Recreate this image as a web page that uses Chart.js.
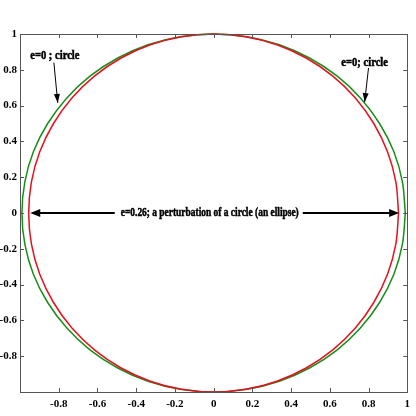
<!DOCTYPE html>
<html><head><meta charset="utf-8">
<script src="https://cdn.jsdelivr.net/npm/chart.js@4.4.0/dist/chart.umd.min.js"></script>
<style>html,body{margin:0;padding:0;background:#fff}canvas{display:block}</style>
</head><body>
<canvas id="c" width="416" height="416"></canvas>
<script>
// Points (green: e=0 circle, red: e=0.26 ellipse)
const greenX = [0.99,0.975,0.931,0.857,0.758,0.637,0.495,0.339,0.172,0,-0.172,-0.339,-0.495,-0.637,-0.758,-0.857,-0.931,-0.975,-0.99,-0.975,-0.931,-0.857,-0.758,-0.637,-0.495,-0.339,-0.172,0,0.172,0.339,0.495,0.637,0.758,0.857,0.931,0.975,0.99];
const greenY = [0,0.174,0.342,0.5,0.643,0.766,0.866,0.94,0.985,1,0.985,0.94,0.866,0.766,0.643,0.5,0.342,0.174,0,-0.174,-0.342,-0.5,-0.643,-0.766,-0.866,-0.94,-0.985,-1,-0.985,-0.94,-0.866,-0.766,-0.643,-0.5,-0.342,-0.174,0];
const redX = [0.955,0.941,0.898,0.827,0.732,0.614,0.478,0.327,0.166,0,-0.166,-0.327,-0.478,-0.614,-0.732,-0.827,-0.898,-0.941,-0.955,-0.941,-0.898,-0.827,-0.732,-0.614,-0.478,-0.327,-0.166,0,0.166,0.327,0.478,0.614,0.732,0.827,0.898,0.941,0.955];
const redY = [0,0.174,0.342,0.5,0.643,0.766,0.866,0.94,0.985,1,0.985,0.94,0.866,0.766,0.643,0.5,0.342,0.174,0,-0.174,-0.342,-0.5,-0.643,-0.766,-0.866,-0.94,-0.985,-1,-0.985,-0.94,-0.866,-0.766,-0.643,-0.5,-0.342,-0.174,0];
const xTickValues = [-1,-0.8,-0.6,-0.4,-0.2,0,0.2,0.4,0.6,0.8,1];
const xTickLabels = ['','-0.8','-0.6','-0.4','-0.2','0','0.2','0.4','0.6','0.8','1'];
const yTickValues = [-1,-0.8,-0.6,-0.4,-0.2,0,0.2,0.4,0.6,0.8,1];
const yTickLabels = ['','-0.8','-0.6','-0.4','-0.2','0','0.2','0.4','0.6','0.8','1'];
// annotations: [text, textX, textY, arrowFromX, arrowFromY, arrowToX, arrowToY] in data units
const noteLeft = ['e=0 ; circle', -0.82, 0.88, -0.825, 0.84, -0.805, 0.615];
const noteRight = ['e=0; circle', 0.78, 0.84, 0.80, 0.81, 0.78, 0.62];
const noteMid = ['e=0.26; a perturbation of a circle (an ellipse)', -0.02, 0, -0.947, 0.958];

const pts = (xs, ys) => xs.map((x, i) => ({x, y: ys[i]}));
const serif = '"Liberation Serif", "Times New Roman", serif';

function arrowHead(ctx, x0, y0, x1, y1, len, w) {
  const a = Math.atan2(y1 - y0, x1 - x0);
  ctx.beginPath();
  ctx.moveTo(x1, y1);
  ctx.lineTo(x1 - len*Math.cos(a) + w*Math.sin(a), y1 - len*Math.sin(a) - w*Math.cos(a));
  ctx.lineTo(x1 - len*Math.cos(a) - w*Math.sin(a), y1 - len*Math.sin(a) + w*Math.cos(a));
  ctx.closePath();
  ctx.fill();
}

const decor = {
  id: 'decor',
  afterDraw(chart) {
    const ctx = chart.ctx, xs = chart.scales.x, ys = chart.scales.y, a = chart.chartArea;
    ctx.save();
    ctx.strokeStyle = '#555'; ctx.lineWidth = 1;
    ctx.strokeRect(Math.round(a.left)+0.5, Math.round(a.top)+0.5, Math.round(a.right-a.left), Math.round(a.bottom-a.top));
    ctx.beginPath();
    xTickValues.forEach(v => {
      const p = Math.round(xs.getPixelForValue(v)) + 0.5;
      ctx.moveTo(p, a.bottom); ctx.lineTo(p, a.bottom - 4);
      ctx.moveTo(p, a.top); ctx.lineTo(p, a.top + 4);
    });
    yTickValues.forEach(v => {
      const p = Math.round(ys.getPixelForValue(v)) + 0.5;
      ctx.moveTo(a.left, p); ctx.lineTo(a.left + 4, p);
      ctx.moveTo(a.right, p); ctx.lineTo(a.right - 4, p);
    });
    ctx.stroke();

    ctx.fillStyle = '#000'; ctx.strokeStyle = '#000';
    ctx.textAlign = 'center'; ctx.textBaseline = 'middle';
    const drawText = (t, x, y, size, target) => {
      ctx.save();
      ctx.font = 'bold ' + size + 'px ' + serif;
      const w = ctx.measureText(t).width;
      const s = target ? target / w : 0.88;
      ctx.translate(x, y); ctx.scale(s, 1);
      ctx.lineWidth = 0.5;
      ctx.fillText(t, 0, 0);
      ctx.strokeText(t, 0, 0);
      ctx.restore();
      return w * s;
    };
    [noteLeft, noteRight].forEach(n => {
      drawText(n[0], xs.getPixelForValue(n[1]), ys.getPixelForValue(n[2]), 12);
      const x0 = xs.getPixelForValue(n[3]), y0 = ys.getPixelForValue(n[4]);
      const x1 = xs.getPixelForValue(n[5]), y1 = ys.getPixelForValue(n[6]);
      ctx.lineWidth = 1;
      ctx.beginPath(); ctx.moveTo(x0, y0); ctx.lineTo(x1, y1); ctx.stroke();
      arrowHead(ctx, x0, y0, x1, y1, 9, 3);
    });
    const cx = xs.getPixelForValue(noteMid[1]), cy = ys.getPixelForValue(noteMid[2]);
    const tw = drawText(noteMid[0], cx, cy, 12, 178);
    const lx = xs.getPixelForValue(noteMid[3]), rx = xs.getPixelForValue(noteMid[4]);
    ctx.lineWidth = 2;
    ctx.beginPath();
    ctx.moveTo(cx - tw/2 - 6, cy); ctx.lineTo(lx + 6, cy);
    ctx.moveTo(cx + tw/2 + 4, cy); ctx.lineTo(rx - 6, cy);
    ctx.stroke();
    arrowHead(ctx, cx, cy, lx, cy, 10, 4);
    arrowHead(ctx, cx, cy, rx, cy, 10, 4);
    ctx.restore();
  }
};

const tickFont = {family: serif, weight: 'bold', size: 11};
new Chart(document.getElementById('c'), {
  type: 'scatter',
  data: {datasets: [
    {data: pts(redX, redY), showLine: true, borderColor: '#e8101e', borderWidth: 1.5, pointRadius: 0, tension: 0.33, fill: false, clip: false},
    {data: pts(greenX, greenY), showLine: true, borderColor: '#168f16', borderWidth: 1.5, pointRadius: 0, tension: 0.33, fill: false, clip: false}
  ]},
  options: {
    responsive: false, animation: false, devicePixelRatio: 1,
    layout: {padding: {top: 34, right: 7, left: 0, bottom: 0}},
    plugins: {legend: {display: false}, tooltip: {enabled: false}},
    scales: {
      x: {type: 'linear', min: -1, max: 1,
        afterBuildTicks: s => { s.ticks = xTickValues.map(v => ({value: v})); },
        afterFit: s => { s.height = 24; },
        grid: {display: false, drawTicks: false}, border: {display: false},
        ticks: {color: '#000', font: tickFont, padding: 6, maxRotation: 0, autoSkip: false,
          callback: (v, i) => xTickLabels[i]}},
      y: {type: 'linear', min: -1, max: 1,
        afterBuildTicks: s => { s.ticks = yTickValues.map(v => ({value: v})); },
        afterFit: s => { s.width = 20; },
        grid: {display: false, drawTicks: false}, border: {display: false},
        ticks: {color: '#000', font: tickFont, padding: 3, autoSkip: false,
          callback: (v, i) => yTickLabels[i]}}
    }
  },
  plugins: [decor]
});
</script>
</body></html>
